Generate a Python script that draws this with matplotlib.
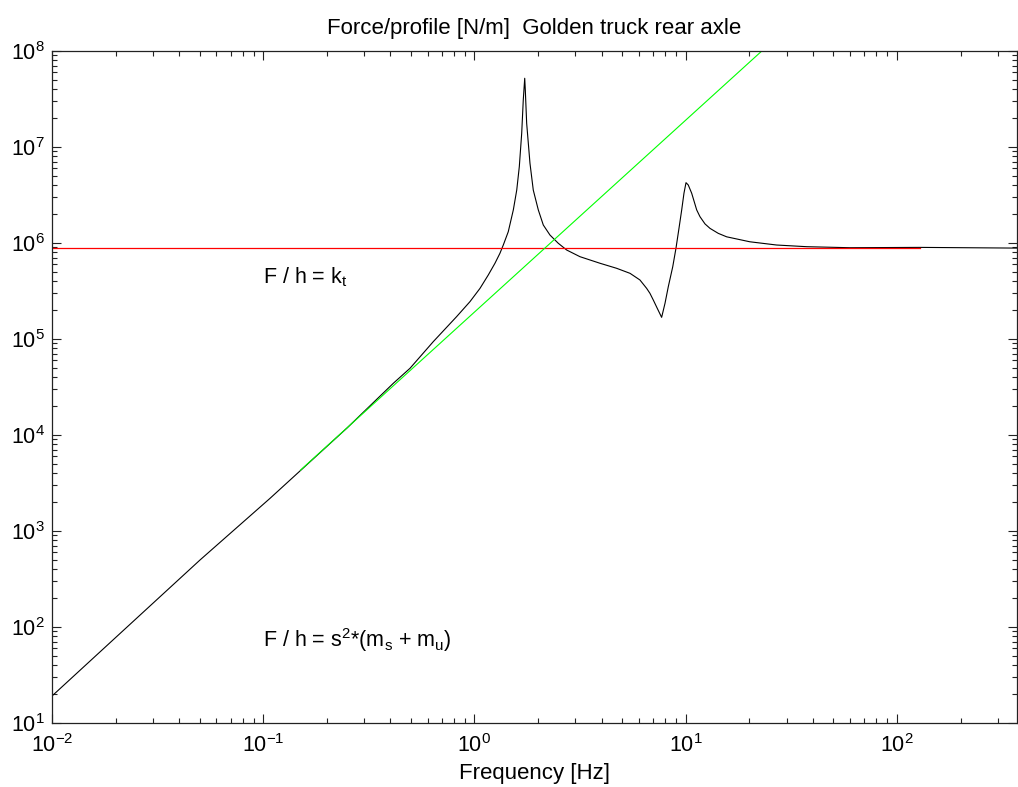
import numpy as np
import matplotlib
matplotlib.use("Agg")
import matplotlib.pyplot as plt

plt.rcParams['font.family'] = ['Liberation Sans', 'DejaVu Sans']
plt.rcParams['mathtext.default'] = 'regular'

# tyre force / road profile, sampled along the curve [Hz], [N/m]
freq = [0.0100, 0.0502, 0.1077, 0.250, 0.413, 0.495, 0.638, 0.823, 0.952,
        1.062, 1.162, 1.250, 1.320, 1.369, 1.445, 1.527, 1.585, 1.630,
        1.673, 1.702, 1.729, 1.740, 1.766, 1.831, 1.898, 2.005, 2.117,
        2.277, 2.493, 2.732, 3.158, 3.928, 4.71, 5.45, 6.07, 6.53, 6.77,
        7.02, 7.33, 7.69, 7.98, 8.27, 8.68, 8.99, 9.29, 9.57, 9.81, 10.03,
        10.28, 10.67, 11.27, 11.68, 12.34, 13.03, 14.26, 15.62, 20.1,
        26.9, 37.4, 59.9, 128.0, 370.0]
force_profile = [19.1, 499, 2190, 1.19e4, 3.46e4, 4.95e4, 9.38e4, 1.71e5,
                 2.45e5, 3.37e5, 4.64e5, 6.15e5, 7.82e5, 9.53e5, 1.31e6,
                 2.21e6, 3.56e6, 6.24e6, 1.39e7, 3.09e7, 5.2e7, 3.93e7,
                 1.77e7, 6.76e6, 3.56e6, 2.21e6, 1.54e6, 1.21e6, 9.93e5,
                 8.45e5, 7.2e5, 6.15e5, 5.45e5, 4.83e5, 4.12e5, 3.37e5,
                 2.99e5, 2.55e5, 2.09e5, 1.68e5, 2.36e5, 3.51e5, 5.66e5,
                 8.8e5, 1.42e6, 2.21e6, 3.3e6, 4.25e6, 4.02e6, 3.3e6, 2.21e6,
                 1.88e6, 1.58e6, 1.42e6, 1.26e6, 1.16e6, 1.03e6, 9.53e5,
                 9.15e5, 8.93e5, 9.0e5, 8.85e5]

# asymptotes
kt_freq = [0.01, 128.0]
kt_value = [8.8e5, 8.8e5]
mass_freq = [0.15, 25.0]
mass_value = [4.3e3, 1.19e8]

fig = plt.figure(figsize=(10.18, 7.87), dpi=100)
ax = fig.add_axes([52 / 1018, 1 - 723 / 787, 965 / 1018, 672 / 787])

ax.loglog(freq, force_profile, color='k', lw=0.8)
ax.loglog(kt_freq, kt_value, color='#ff0000', lw=0.9)
ax.loglog(mass_freq, mass_value, color='#00ff00', lw=0.8)

ax.set_xlim(0.01, 370)
ax.set_ylim(10, 1e8)

ax.text(0.1, 3.8e5, 'F / h = k$_t$', fontsize=15.5, va='baseline')
ax.text(0.1, 62, 'F / h = s$^2$*(m$_s$ + m$_u$)', fontsize=15.5, va='baseline')

ax.set_title('Force/profile [N/m]  Golden truck rear axle', fontsize=16, pad=12)
ax.set_xlabel('Frequency [Hz]', fontsize=16, labelpad=4)

ax.tick_params(which='both', direction='in', top=True, right=True,
               labelsize=15.5, color='#222222')
ax.tick_params(which='major', length=6.5, width=0.8)
ax.tick_params(which='minor', length=3.6, width=0.8)
ax.tick_params(axis='x', which='major', pad=8)
ax.tick_params(axis='y', which='major', pad=5)
for sp in ax.spines.values():
    sp.set_linewidth(0.9)
    sp.set_color('#222222')

fig.savefig('out.png', dpi=100)
